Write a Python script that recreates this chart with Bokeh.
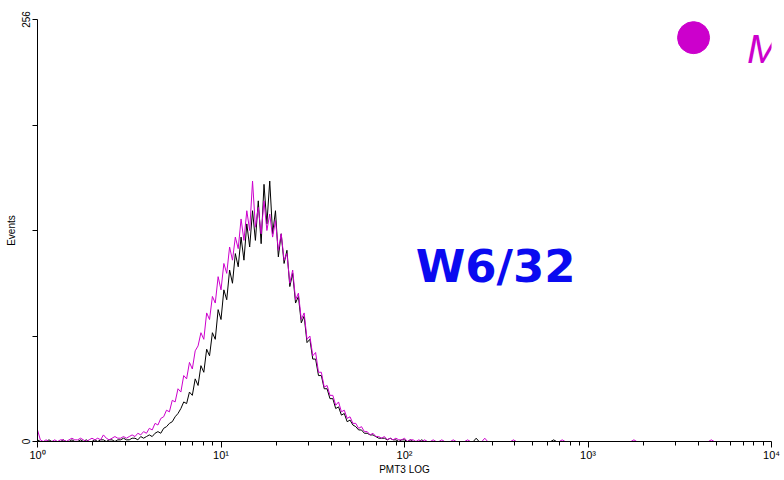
import numpy as np
from bokeh.plotting import figure
from bokeh.models import Range1d, FixedTicker, Label
from bokeh.embed import file_html
from bokeh.resources import INLINE

# Histogram counts, one value per 4 channels (256 channels per decade, 1024 channels)
magenta_counts = [
    7, 1, 0, 1, 0, 0, 1, 0, 1, 1,
    0, 1, 2, 1, 1, 2, 1, 0, 1, 2,
    1, 2, 1, 4, 2, 1, 2, 3, 2, 2,
    3, 2, 3, 4, 3, 5, 4, 6, 5, 8,
    7, 11, 10, 14, 15, 19, 18, 25, 24, 32,
    30, 40, 38, 48, 44, 55, 58, 66, 62, 78,
    74, 88, 84, 100, 92, 108, 102, 118, 110, 124,
    117, 135, 122, 140, 128, 158, 130, 142, 126, 146,
    128, 138, 124, 134, 116, 126, 110, 114, 96, 104,
    86, 90, 74, 78, 62, 64, 52, 54, 42, 42,
    33, 34, 28, 28, 22, 24, 18, 19, 14, 15,
    11, 11, 8, 9, 6, 6, 4, 5, 3, 3,
    2, 3, 1, 2, 1, 2, 1, 1, 2, 0,
    1, 1, 0, 1, 0, 1, 0, 0, 1, 0,
    0, 1, 0, 0, 0, 1, 0, 0, 0, 0,
    1, 0, 0, 0, 0, 0, 2, 0, 0, 0,
    0, 0, 0, 0, 0, 0, 1, 0, 0, 0,
    0, 0, 0, 0, 0, 0, 0, 0, 0, 0,
    0, 0, 0, 1, 0, 0, 0, 0, 0, 0,
    0, 0, 0, 0, 0, 0, 0, 0, 0, 0,
    0, 0, 0, 0, 0, 0, 0, 0, 1, 0,
    0, 0, 0, 0, 0, 0, 0, 0, 0, 0,
    0, 0, 0, 0, 0, 0, 0, 0, 0, 0,
    0, 0, 0, 0, 0, 1, 0, 0, 0, 0,
    0, 0, 0, 0, 0, 0, 0, 0, 0, 0,
    0, 0, 0, 0, 0, 0,
]
black_counts = [
    1, 0, 0, 0, 1, 0, 0, 0, 0, 1,
    0, 0, 1, 0, 0, 1, 0, 1, 0, 0,
    1, 0, 1, 1, 0, 1, 1, 0, 1, 1,
    2, 1, 1, 2, 2, 1, 3, 2, 3, 4,
    3, 5, 6, 5, 8, 9, 11, 12, 15, 17,
    20, 24, 23, 30, 28, 38, 34, 46, 42, 56,
    52, 66, 62, 80, 74, 92, 86, 104, 96, 114,
    106, 124, 110, 132, 118, 140, 122, 146, 120, 156,
    132, 158, 126, 140, 112, 126, 108, 116, 94, 102,
    84, 88, 72, 76, 60, 62, 50, 50, 40, 40,
    32, 32, 26, 26, 20, 21, 16, 17, 12, 13,
    10, 9, 7, 7, 5, 5, 4, 4, 3, 2,
    2, 2, 1, 2, 1, 1, 0, 1, 1, 0,
    1, 0, 0, 0, 1, 0, 0, 0, 0, 0,
    0, 0, 0, 0, 0, 0, 0, 0, 0, 0,
    0, 0, 0, 2, 0, 0, 0, 0, 0, 0,
    0, 0, 0, 0, 0, 0, 0, 0, 0, 0,
    0, 0, 0, 0, 0, 0, 0, 0, 0, 0,
    1, 0, 0, 0, 0, 0, 0, 0, 0, 0,
    0, 0, 0, 0, 0, 0, 0, 0, 0, 0,
    0, 0, 0, 0, 0, 0, 0, 0, 0, 0,
    0, 0, 0, 0, 0, 0, 0, 0, 0, 0,
    0, 0, 0, 0, 0, 0, 0, 0, 0, 0,
    0, 0, 0, 0, 0, 0, 0, 0, 0, 0,
    0, 0, 0, 0, 0, 0, 0, 0, 0, 0,
    0, 0, 0, 0, 0, 0,
]
channels_per_point = 4
channels_per_decade = 256

x_ticks = [1, 10, 100, 1000, 10000]
x_tick_labels = ["10\u2070", "10\u00b9", "10\u00b2", "10\u00b3", "10\u2074"]
y_ticks = [0, 64, 128, 192, 256]
y_tick_labels = ["0", "", "", "", "256"]

legend_text = "M"
annotation_text = "W6/32"
x_title = "PMT3 LOG"
y_title = "Events"

MAGENTA = "#CC00CC"
BLUE = "#0a0af0"
FONT = "Liberation Sans"

x_vals = [10 ** (i * channels_per_point / channels_per_decade) for i in range(len(black_counts))]

p = figure(width=784, height=480, x_axis_type="log",
           x_range=Range1d(1, 10000), y_range=Range1d(0, 256),
           output_backend="svg", toolbar_location=None,
           min_border_left=37, min_border_right=13, min_border_top=19, min_border_bottom=39)
p.outline_line_color = None
p.xgrid.visible = False
p.ygrid.visible = False
p.background_fill_color = "white"
p.border_fill_color = "white"

p.line(x_vals, black_counts, line_color="black", line_width=1)
p.line(x_vals, magenta_counts, line_color=MAGENTA, line_width=1)

# legend marker and text (top right)
p.scatter(x=[3760], y=[245], size=32, marker="circle", fill_color=MAGENTA, line_color=MAGENTA)
p.add_layout(Label(x=7350, y=238, text=legend_text, text_font=FONT, text_font_style="italic",
                   text_font_size="41px", text_color=MAGENTA, text_baseline="alphabetic"))
p.add_layout(Label(x=115, y=106, text=annotation_text, text_font="DejaVu Sans", text_font_style="bold",
                   text_font_size="45px", text_color=BLUE, text_baseline="alphabetic"))

# x axis
xa = p.xaxis[0]
minor = [m * 10 ** k for k in range(4) for m in range(2, 10)]
xa.ticker = FixedTicker(ticks=x_ticks, minor_ticks=minor)
xa.major_label_overrides = {t: l for t, l in zip(x_ticks, x_tick_labels)}
xa.axis_label = x_title
xa.axis_label_text_font = FONT
xa.axis_label_text_font_style = "normal"
xa.axis_label_text_font_size = "10px"
xa.axis_label_text_color = "black"
xa.axis_label_standoff = 0
xa.major_label_text_font = FONT
xa.major_label_text_font_size = "11px"
xa.major_label_text_color = "black"
xa.major_label_standoff = 1
xa.major_tick_out = 6
xa.major_tick_in = 0
xa.minor_tick_out = 4
xa.minor_tick_in = 0
xa.axis_line_color = "black"

# y axis
ya = p.yaxis[0]
ya.ticker = FixedTicker(ticks=y_ticks)
ya.major_label_overrides = {t: l for t, l in zip(y_ticks, y_tick_labels)}
ya.major_label_orientation = "vertical"
ya.axis_label = y_title
ya.axis_label_text_font = FONT
ya.axis_label_text_font_style = "normal"
ya.axis_label_text_font_size = "10px"
ya.axis_label_text_color = "black"
ya.axis_label_standoff = 2
ya.major_label_text_font = FONT
ya.major_label_text_font_size = "10px"
ya.major_label_text_color = "black"
ya.major_label_standoff = 3
ya.major_tick_out = 5
ya.major_tick_in = 0
ya.minor_tick_out = 0
ya.minor_tick_in = 0
ya.axis_line_color = "black"

open("out.html", "w").write(file_html(p, INLINE))
